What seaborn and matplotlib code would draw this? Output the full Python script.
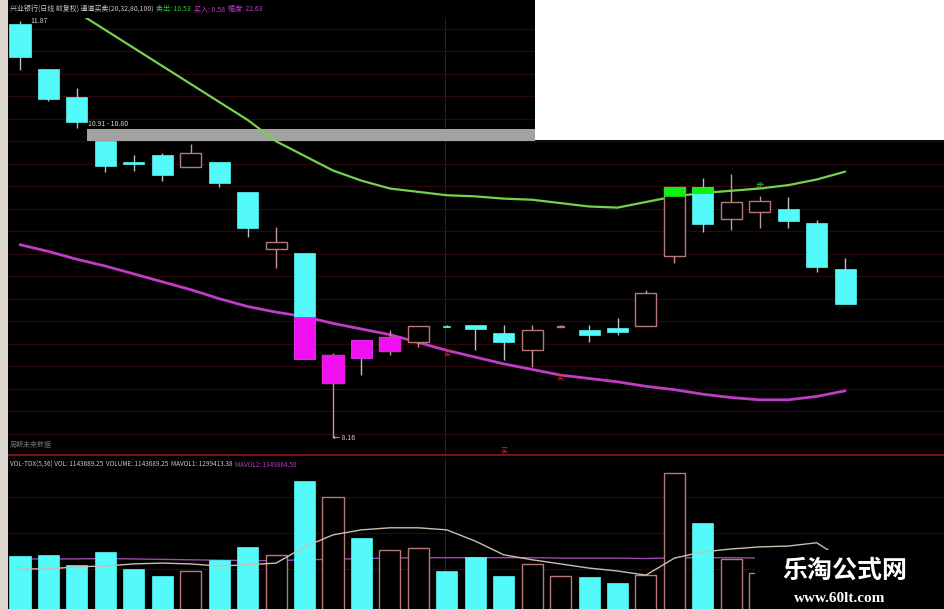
import numpy as np
import pandas as pd
import seaborn as sns
import matplotlib.pyplot as plt
from matplotlib.patches import Rectangle

# daily candles (prices)
opens = [11.84, 11.44, 11.19, 10.80, 10.62, 10.68, 10.57, 10.62, 10.35, 9.84,
         9.81, 8.65, 9.03, 8.93, 9.01, 9.16, 9.17, 9.09, 8.94, 9.15,
         9.12, 9.14, 9.16, 9.78, 10.39, 10.11, 10.17, 10.20, 10.07, 9.66]
closes = [11.55, 11.18, 10.97, 10.58, 10.60, 10.50, 10.70, 10.43, 10.03, 9.90,
          8.86, 8.90, 8.87, 9.06, 9.16, 9.15, 9.13, 9.01, 9.12, 9.16,
          9.08, 9.10, 9.45, 10.39, 10.06, 10.26, 10.27, 10.09, 9.68, 9.35]
highs = [11.87, 11.44, 11.27, 10.80, 10.68, 10.70, 10.78, 10.62, 10.35, 10.04,
         9.81, 8.92, 9.03, 9.12, 9.16, 9.17, 9.17, 9.17, 9.17, 9.17,
         9.17, 9.23, 9.48, 10.39, 10.47, 10.51, 10.31, 10.30, 10.10, 9.76]
lows = [11.43, 11.16, 10.92, 10.53, 10.54, 10.45, 10.57, 10.39, 9.95, 9.67,
        8.86, 8.16, 8.72, 8.90, 8.97, 9.15, 8.94, 8.85, 8.79, 9.15,
        9.01, 9.08, 9.16, 9.72, 9.99, 10.01, 10.03, 10.03, 9.64, 9.35]

# channel lines (sell / buy)
sell_line = [12.28, 12.12, 11.95, 11.79, 11.63, 11.47, 11.31, 11.15, 10.99, 10.80,
             10.67, 10.54, 10.45, 10.38, 10.35, 10.32, 10.31, 10.29, 10.28, 10.25,
             10.22, 10.21, 10.26, 10.31, 10.34, 10.36, 10.38, 10.41, 10.46, 10.53]
buy_line = [9.88, 9.82, 9.75, 9.69, 9.62, 9.55, 9.48, 9.40, 9.33, 9.28,
            9.24, 9.18, 9.13, 9.08, 9.01, 8.94, 8.88, 8.82, 8.77, 8.72,
            8.69, 8.66, 8.62, 8.59, 8.55, 8.52, 8.50, 8.50, 8.53, 8.58]

# volume, millions of shares
volumes = [1.42, 1.45, 1.21, 1.52, 1.11, 0.94, 1.06, 1.33, 1.64, 1.45,
           3.23, 2.84, 1.86, 1.57, 1.61, 1.06, 1.40, 0.94, 1.23, 0.94,
           0.92, 0.77, 0.96, 3.42, 2.22, 1.35, 1.01, 1.30, 1.50, 1.14]
mavol1 = [1.11, 1.11, 1.16, 1.18, 1.23, 1.25, 1.23, 1.18, 1.21, 1.25,
          1.64, 1.93, 2.05, 2.10, 2.10, 2.05, 1.78, 1.45, 1.33, 1.23,
          1.13, 1.06, 0.96, 1.37, 1.52, 1.59, 1.64, 1.66, 1.74, 1.30]
mavol2 = [1.35, 1.35, 1.35, 1.36, 1.35, 1.34, 1.33, 1.32, 1.31, 1.31,
          1.33, 1.34, 1.36, 1.37, 1.38, 1.38, 1.38, 1.38, 1.38, 1.37,
          1.37, 1.37, 1.36, 1.38, 1.38, 1.38, 1.37, 1.36, 1.35, 1.35]

band_low, band_high = 10.80, 10.91
buy_marks = [15, 19, 17]
sell_marks = [26]

df = pd.DataFrame({"day": np.arange(len(opens)), "open": opens, "close": closes,
                   "high": highs, "low": lows, "sell": sell_line, "buy": buy_line,
                   "vol": volumes, "ma1": mavol1, "ma2": mavol2})

sns.set_theme(style="dark", rc={"axes.facecolor": "black", "figure.facecolor": "black"})
plt.rcParams["font.family"] = ["Noto Sans CJK SC", "DejaVu Sans"]

W, H = 945, 609
fig = plt.figure(figsize=(W / 100, H / 100), dpi=100)


def px_axes(x0, y0, x1, y1):
    return fig.add_axes([x0 / W, 1 - y1 / H, (x1 - x0) / W, (y1 - y0) / H])


ax = px_axes(8, 18, 945, 455)
axv = px_axes(8, 458, 945, 609)

CYAN = "#54fafa"
HOLLOW = "#b87878"
MAG = "#f010f0"
GREEN = "#10f010"
grid_c = "#2e0808"

for a in (ax, axv):
    a.set_facecolor("black")
    a.set_xlim(-0.422, 32.51)
    a.set_xticks([])
    a.set_yticks([])
    for s in a.spines.values():
        s.set_visible(False)
ax.spines["bottom"].set_visible(True)
ax.spines["bottom"].set_color("#7a1414")
ax.spines["bottom"].set_linewidth(1.5)
ax.set_ylim(8.009, 11.897)
axv.set_ylim(0.145, 3.78)

for p in np.arange(8.2, 11.81, 0.2):
    ax.axhline(p, color=grid_c, lw=0.9, zorder=0)
for v in (1.11, 1.98, 2.84):
    axv.axhline(v, color=grid_c, lw=0.9, zorder=0)
ax.axvline(14.94, color="#222222", lw=0.8, zorder=0)
axv.axvline(14.94, color="#222222", lw=0.8, zorder=0)

# grey price band
ax.add_patch(Rectangle((2.355, band_low), 15.75, band_high - band_low,
                       facecolor="#a2a2a2", edgecolor="none", zorder=1))
ax.text(2.4, band_high + 0.03, "10.91 - 10.80", color="#d8d8d8", fontsize=5, zorder=2)

# channel lines
sns.lineplot(data=df, x="day", y="sell", ax=ax, color="#74d24c", lw=1.6, zorder=3)
sns.lineplot(data=df, x="day", y="buy", ax=ax, color="#c03cc8", lw=2.0, zorder=3)

bw = 0.74
for i, r in df.iterrows():
    o, c, h, l = r["open"], r["close"], r["high"], r["low"]
    lo, hi = min(o, c), max(o, c)
    up = c > o
    w = bw if hi - lo > 0.015 else 0.25
    ax.vlines(i, l, h, color="#c89494" if up else "#b0c4c4", lw=1, zorder=4)
    if up:
        ax.add_patch(Rectangle((i - w / 2, lo), w, max(hi - lo, 0.008), facecolor="black",
                               edgecolor=HOLLOW, lw=1, zorder=5))
    else:
        ax.add_patch(Rectangle((i - w / 2, lo), w, max(hi - lo, 0.008), facecolor=CYAN,
                               edgecolor=CYAN, lw=0.5, zorder=5))
    if hi > r["sell"]:
        b = max(lo, r["sell"])
        ax.add_patch(Rectangle((i - w / 2, b), w, hi - b, facecolor=GREEN,
                               edgecolor=GREEN, lw=0.5, zorder=6))
    if lo < r["buy"]:
        t = min(hi, r["buy"])
        ax.add_patch(Rectangle((i - w / 2, lo), w, t - lo, facecolor=MAG,
                               edgecolor=MAG, lw=0.5, zorder=6))

# extreme labels
top_i = int(np.argmax(highs))
bot_i = int(np.argmin(lows))
ax.text(top_i + 0.38, highs[top_i], "11.87", color="#d0d0d0", fontsize=5, va="center", zorder=7)
ax.text(bot_i, lows[bot_i], "\u2190 8.16", color="#d0d0d0", fontsize=5, va="center", zorder=7)

for i in buy_marks:
    y = buy_line[i] - 0.02 if i != 17 else 8.05
    ax.text(i, y, "买", color="#c83030", fontsize=5, ha="center", va="center", zorder=7)
for i in sell_marks:
    ax.text(i, sell_line[i] + 0.03, "卖", color="#3cc03c", fontsize=6, ha="center", va="center", zorder=7)

ax.text(-0.35, 8.1, "周期未来数据", color="#707070", fontsize=5, va="center")

# volume panel
for i, r in df.iterrows():
    up = r["close"] > r["open"]
    if up:
        axv.bar(i, r["vol"], width=bw, facecolor="black", edgecolor=HOLLOW, lw=1, zorder=3)
    else:
        axv.bar(i, r["vol"], width=bw, facecolor=CYAN, edgecolor=CYAN, lw=0.5, zorder=3)
sns.lineplot(data=df, x="day", y="ma1", ax=axv, color="#c8c0b0", lw=1.0, zorder=4)
sns.lineplot(data=df, x="day", y="ma2", ax=axv, color="#9a4aa8", lw=1.0, zorder=2)
for a in (ax, axv):
    a.set_xlabel("")
    a.set_ylabel("")

# overlays from the screenshot
fig.patches.append(Rectangle((535 / W, 1 - 140 / H), 410 / W, 140 / H, transform=fig.transFigure,
                             facecolor="white", edgecolor="none", zorder=20))
fig.patches.append(Rectangle((0, 0), 8 / W, 1, transform=fig.transFigure,
                             facecolor="#dcd8d0", edgecolor="none", zorder=20))
fig.patches.append(Rectangle((755 / W, 0), 190 / W, 59 / H, transform=fig.transFigure,
                             facecolor="black", edgecolor="none", zorder=20))
fig.text(845 / W, 1 - 571 / H, "乐淘公式网", color="white", fontsize=18, fontweight="bold",
         ha="center", va="center", zorder=21)
fig.text(840 / W, 1 - 598 / H, "www.60lt.com", color="white", fontsize=11, fontweight="bold",
         family="Liberation Serif", ha="center", va="center", zorder=21)

# header lines, laid out piece by piece
fig.canvas.draw()
rend = fig.canvas.get_renderer()


def header(x, y, pieces, size=5):
    for txt, col in pieces:
        t = fig.text(x / W, 1 - y / H, txt, color=col, fontsize=size, va="center", zorder=22)
        x = t.get_window_extent(rend).x1 + 3


header(10, 9, [("兴业银行(日线 前复权) 通道买卖(20,32,80,100)", "#c8c8c8"),
               ("卖出: 10.53", "#36c836"), ("买入: 8.58", "#c838c8"), ("幅度: 22.63", "#c838c8")])
header(10, 465, [("VOL-TDX(5,36) VOL: 1143689.25  VOLUME: 1143689.25  MAVOL1: 1299413.38", "#c8c8c8"),
                 ("MAVOL2: 1349884.50", "#b040c0")], size=4.6)

fig.savefig("out.png", dpi=100, facecolor="black")
